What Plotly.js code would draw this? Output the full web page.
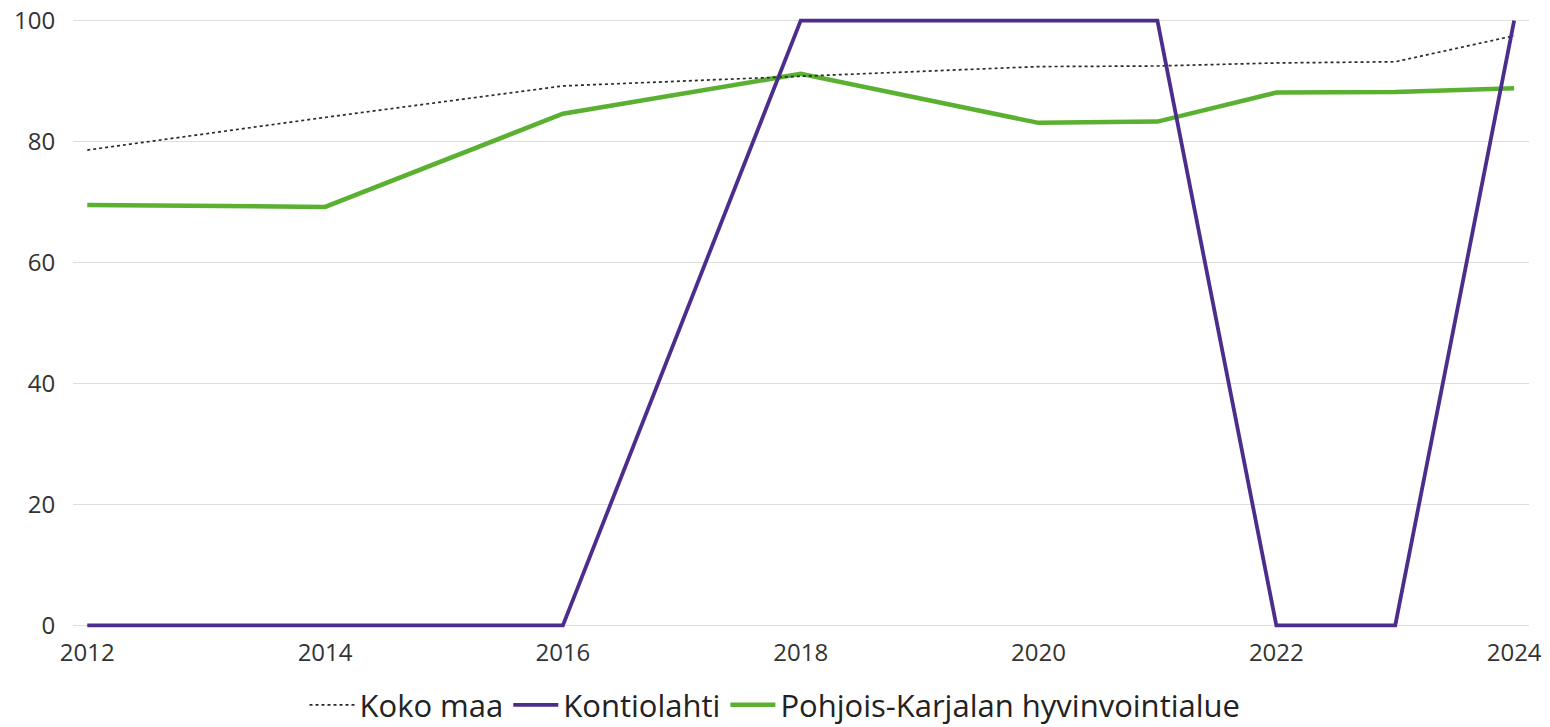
<!DOCTYPE html>
<html>
<head>
<meta charset="utf-8">
<script src="https://cdn.plot.ly/plotly-3.0.1.min.js"></script>
<style>
  html, body { margin: 0; padding: 0; background: #ffffff; }
  #chart { width: 1550px; height: 727px; }
</style>
</head>
<body>
<div id="chart"></div>
<script>
const years = [2012, 2014, 2016, 2018, 2020, 2021, 2022, 2023, 2024];
const kokoMaa = [78.6, 84.0, 89.2, 90.8, 92.4, 92.5, 93.0, 93.2, 97.5];
const kontiolahti = [0, 0, 0, 100, 100, 100, 0, 0, 100];
const pohjoisKarjala = [69.5, 69.2, 84.6, 91.2, 83.1, 83.3, 88.1, 88.2, 88.8];
const xTicks = [2012, 2014, 2016, 2018, 2020, 2022, 2024];
const yTicks = [0, 20, 40, 60, 80, 100];

const FONT = '"Open Sans", "Noto Sans", sans-serif';

const traces = [
  {
    x: years, y: pohjoisKarjala, name: 'Pohjois-Karjalan hyvinvointialue',
    type: 'scatter', mode: 'lines', legendrank: 3,
    line: { color: '#5ab031', width: 4.5 }
  },
  {
    x: years, y: kokoMaa, name: 'Koko maa',
    type: 'scatter', mode: 'lines', legendrank: 1,
    line: { color: '#2a2a2a', width: 1.7, dash: 'dot' }
  },
  {
    x: years, y: kontiolahti, name: 'Kontiolahti',
    type: 'scatter', mode: 'lines', legendrank: 2,
    line: { color: '#4b2d8c', width: 3.8 }
  }
];

const layout = {
  width: 1550, height: 727,
  paper_bgcolor: '#ffffff', plot_bgcolor: '#ffffff',
  margin: { l: 73, r: 21, t: 17, b: 98 },
  font: { family: FONT, color: '#333333', size: 22 },
  showlegend: true,
  legend: {
    orientation: 'h', xref: 'container', yref: 'container',
    x: 0.5, xanchor: 'center', y: 0.03, yanchor: 'middle',
    font: { family: FONT, size: 31, color: '#222222' },
    itemwidth: 45, traceorder: 'normal'
  },
  xaxis: {
    range: [2011.88, 2024.125],
    tickmode: 'array', tickvals: xTicks, ticktext: xTicks.map(String),
    showgrid: false, zeroline: false, showline: false,
    ticks: 'outside', ticklen: 2, tickcolor: 'rgba(0,0,0,0)',
    tickfont: { family: FONT, size: 24, color: '#333333' }
  },
  yaxis: {
    range: [-0.6, 100.6],
    tickmode: 'array', tickvals: yTicks, ticktext: yTicks.map(String),
    showgrid: true, gridcolor: '#dedede', gridwidth: 1.5,
    zeroline: true, zerolinecolor: '#dedede', zerolinewidth: 1.5,
    showline: false,
    ticks: 'outside', ticklen: 12, tickcolor: 'rgba(0,0,0,0)',
    tickfont: { family: FONT, size: 24, color: '#333333' }
  }
};

Plotly.newPlot('chart', traces, layout, { displayModeBar: false, staticPlot: true });
</script>
</body>
</html>
